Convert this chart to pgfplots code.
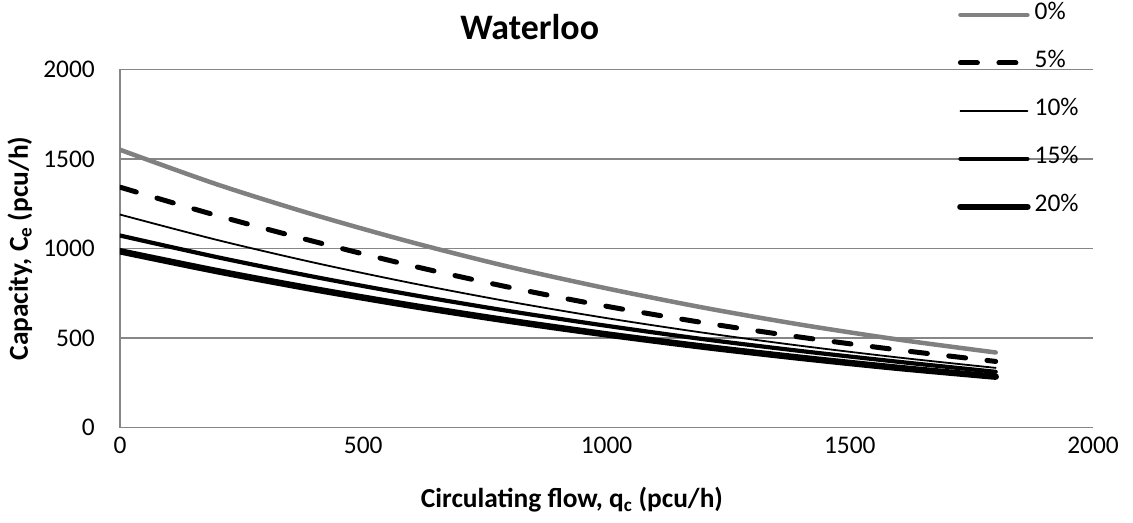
\documentclass[border=0pt]{standalone}
\usepackage{pgfplots}
\pgfplotsset{compat=1.18}
\usepackage{fontspec}
\setmainfont{Carlito}

\definecolor{gridgray}{RGB}{134,134,134}
\definecolor{seriesgray}{RGB}{128,128,128}

% Entry capacity against circulating flow, one column per share
\pgfplotstableread{
q     p0    p5    p10   p15   p20
0     1552  1343  1190  1073  985
200   1358  1184  1048  952   874
400   1188  1039  921   842   773
600   1035  904   807   742   681
800   898   784   704   651   597
1000  778   678   612   569   521
1200  670   586   530   494   452
1400  575   505   457   428   390
1600  492   434   392   368   334
1800  420   370   334   312   285
}\capdata

\begin{document}
\begin{tikzpicture}
\begin{axis}[
  at={(0,0)}, anchor=south west,
  scale only axis, width=973bp, height=358.2bp,
  xmin=0, xmax=2000, ymin=0, ymax=2000,
  xtick={0,500,...,2000}, ytick={0,500,...,2000},
  axis lines=left,
  axis line style={-, gridgray, line width=1.4bp},
  ymajorgrids,
  major grid style={gridgray, line width=1.4bp},
  major tick length=0pt,
  tick style={draw=none},
  /pgf/number format/assume math mode=true,
  /pgf/number format/1000 sep={},
  ticklabel style={font=\fontsize{25.5}{30}\selectfont, inner sep=0pt},
  xticklabel style={anchor=north, yshift=-9.5bp},
  yticklabel style={anchor=east, xshift=-25bp},
  label style={font=\bfseries\fontsize{27.5}{30}\selectfont, inner sep=0pt},
  xlabel={Circulating flow, q\textsubscript{c} (pcu/h)},
  ylabel={Capacity, C\textsubscript{e} (pcu/h)},
  xlabel style={at={([yshift=-80bp]axis description cs:0.4645,0)}, anchor=base},
  ylabel style={at={([xshift=-92bp]axis description cs:0,0.5)}, anchor=base, rotate=0},
  title={Waterloo},
  title style={font=\bfseries\fontsize{36}{42}\selectfont, inner sep=0pt,
    at={([yshift=24bp]axis description cs:0.421,1)}, anchor=base},
  legend style={draw=none, fill=none, at={(0.8602,1.1865)}, anchor=north west,
    inner sep=0pt, row sep=24bp, column sep=4bp,
    font=\fontsize{25.5}{30}\selectfont,
    nodes={inner sep=0pt, text height=17bp, text depth=7bp}},
  legend cell align=left,
  legend image code/.code={\draw[#1] (0bp,0bp) -- (67bp,0bp);},
  every axis plot/.append style={line cap=round, line join=round},
]
\addplot[seriesgray, line width=4.5bp, smooth] table[x=q, y=p0] {\capdata};
\addlegendentry{0\%}
\addplot[black, line width=5bp, smooth, dash pattern=on 17bp off 21.5bp] table[x=q, y=p5] {\capdata};
\addlegendentry{5\%}
\addplot[black, line width=1.8bp, smooth] table[x=q, y=p10] {\capdata};
\addlegendentry{10\%}
\addplot[black, line width=4.2bp, smooth] table[x=q, y=p15] {\capdata};
\addlegendentry{15\%}
\addplot[black, line width=6.5bp, smooth] table[x=q, y=p20] {\capdata};
\addlegendentry{20\%}
\end{axis}
\pgfresetboundingbox
\path[use as bounding box] (-120bp,-95.3bp) rectangle (1013bp,427.7bp);
\end{tikzpicture}
\end{document}
